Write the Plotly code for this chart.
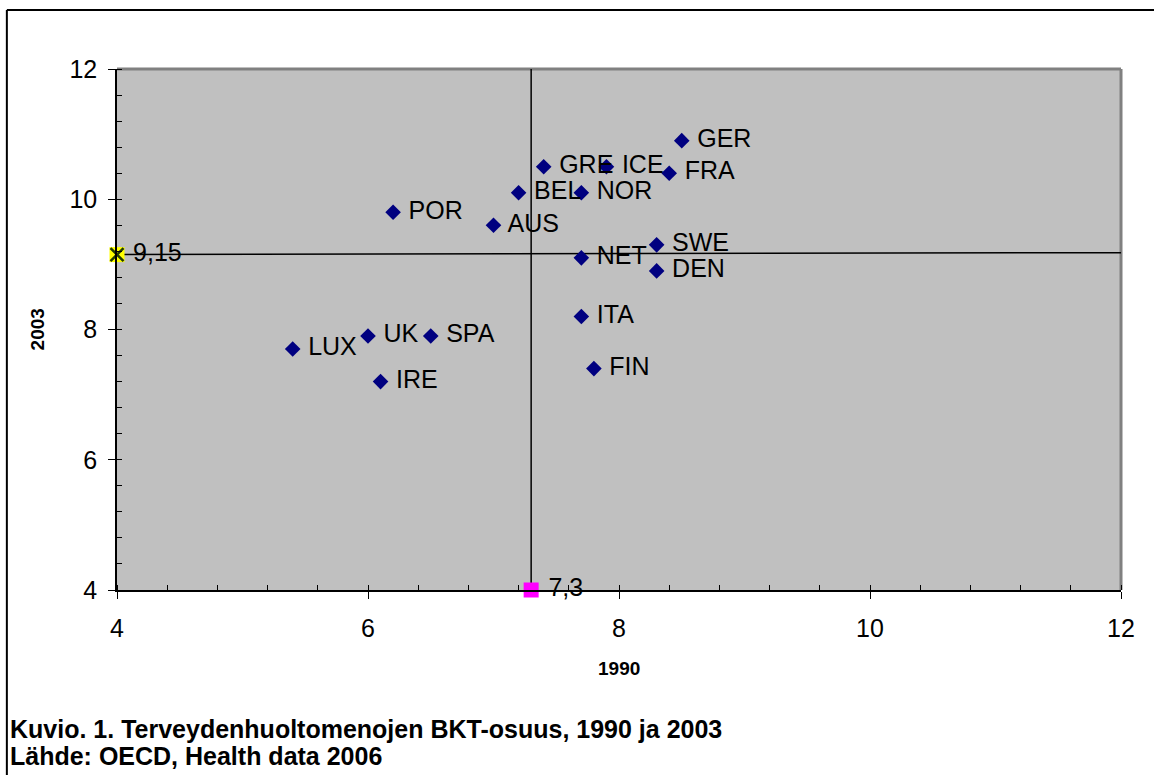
import plotly.graph_objects as go

# ---- data ----
countries = ["GER", "GRE", "ICE", "FRA", "BEL", "NOR", "POR", "AUS", "SWE",
             "NET", "DEN", "ITA", "SPA", "UK", "LUX", "IRE", "FIN"]
x1990 = [8.5, 7.4, 7.9, 8.4, 7.2, 7.7, 6.2, 7.0, 8.3, 7.7, 8.3, 7.7, 6.5, 6.0, 5.4, 6.1, 7.8]
y2003 = [10.9, 10.5, 10.5, 10.4, 10.1, 10.1, 9.8, 9.6, 9.3, 9.1, 8.9, 8.2, 7.9, 7.9, 7.7, 7.2, 7.4]

avg_1990 = 7.3
avg_2003 = 9.15
avg_1990_label = "7,3"
avg_2003_label = "9,15"

vline_x = [7.3, 7.3]
vline_y = [4, 12]
hline_x = [4, 12]
hline_y = [9.15, 9.18]

x_range = [4, 12]
y_range = [4, 12]
tick_vals = [4, 6, 8, 10, 12]

x_title = "1990"
y_title = "2003"
caption1 = "Kuvio. 1. Terveydenhuoltomenojen BKT-osuus, 1990 ja 2003"
caption2 = "Lähde: OECD, Health data 2006"

FONT = "Liberation Sans, Arial, sans-serif"
LBL = 25

fig = go.Figure()

fig.add_trace(go.Scatter(x=vline_x, y=vline_y, mode="lines",
                         line=dict(color="black", width=1.5), hoverinfo="skip"))
fig.add_trace(go.Scatter(x=hline_x, y=hline_y, mode="lines",
                         line=dict(color="black", width=1.5), hoverinfo="skip"))

fig.add_trace(go.Scatter(
    x=x1990, y=y2003, mode="markers+text",
    text=[" " + c for c in countries], textposition="middle right",
    textfont=dict(family=FONT, size=LBL, color="black"),
    marker=dict(symbol="diamond", size=12, color="#000080", line=dict(width=0)),
    cliponaxis=False,
))

# average markers
fig.add_trace(go.Scatter(
    x=[x_range[0]], y=[avg_2003], mode="markers",
    marker=dict(symbol="square", size=15, color="#FFFF00", line=dict(width=0)),
    cliponaxis=False, hoverinfo="skip"))
fig.add_trace(go.Scatter(
    x=[x_range[0]], y=[avg_2003], mode="markers+text",
    text=[" " + avg_2003_label], textposition="middle right",
    textfont=dict(family=FONT, size=LBL, color="black"),
    marker=dict(symbol="x-thin", size=13, color="#1f3a00", line=dict(width=2.5, color="#1f3a00")),
    cliponaxis=False, hoverinfo="skip"))
fig.add_trace(go.Scatter(
    x=[avg_1990], y=[y_range[0]], mode="markers+text",
    text=[" " + avg_1990_label], textposition="middle right",
    textfont=dict(family=FONT, size=LBL, color="black"),
    marker=dict(symbol="square", size=15, color="#FF00FF", line=dict(width=0)),
    cliponaxis=False, hoverinfo="skip"))

axis_common = dict(
    showgrid=False, zeroline=False, showline=True, linecolor="black", linewidth=1.5,
    ticks="outside", ticklen=7, tickcolor="black", tickwidth=1,
    tickfont=dict(family=FONT, size=LBL, color="black"),
    tickvals=tick_vals,
    minor=dict(ticks="inside", dtick=0.4, ticklen=5, tickcolor="black", tickwidth=1),
)

fig.update_xaxes(range=x_range, ticklabelstandoff=8, **axis_common)
fig.update_yaxes(range=y_range, ticklabelstandoff=6, **axis_common)

# plot area top/right border (gray)
fig.add_shape(type="line", xref="x domain", yref="y domain", x0=0, x1=1, y0=1, y1=1,
              line=dict(color="#808080", width=3), layer="below")
fig.add_shape(type="line", xref="x domain", yref="y domain", x0=1, x1=1, y0=0, y1=1,
              line=dict(color="#808080", width=3), layer="below")

# outer frame (left and top)
fig.add_shape(type="line", xref="paper", yref="paper", x0=-0.1097, x1=1.05,
              y0=1.1132, y1=1.1132, line=dict(color="black", width=2))
fig.add_shape(type="line", xref="paper", yref="paper", x0=-0.1097, x1=-0.1097,
              y0=1.1132, y1=-0.45, line=dict(color="black", width=2))

fig.add_annotation(text="<b>%s</b>" % x_title, xref="paper", yref="paper",
                   x=0.5, y=-0.1516, showarrow=False, xanchor="center", yanchor="middle",
                   font=dict(family=FONT, size=19, color="black"))
fig.add_annotation(text="<b>%s</b>" % y_title, xref="paper", yref="paper",
                   x=-0.0788, y=0.5, showarrow=False, xanchor="center", yanchor="middle",
                   textangle=-90, font=dict(family=FONT, size=19, color="black"))
fig.add_annotation(text="<b>%s</b>" % caption1, xref="paper", yref="paper",
                   x=-0.1087, y=-0.267, showarrow=False, xanchor="left", yanchor="middle",
                   font=dict(family=FONT, size=25, color="black"))
fig.add_annotation(text="<b>%s</b>" % caption2, xref="paper", yref="paper",
                   x=-0.1087, y=-0.319, showarrow=False, xanchor="left", yanchor="middle",
                   font=dict(family=FONT, size=25, color="black"))

fig.update_layout(
    width=1154, height=775,
    margin=dict(l=117, r=33, t=69, b=185),
    plot_bgcolor="#C0C0C0", paper_bgcolor="white",
    showlegend=False,
)

fig.write_html("out.html")
